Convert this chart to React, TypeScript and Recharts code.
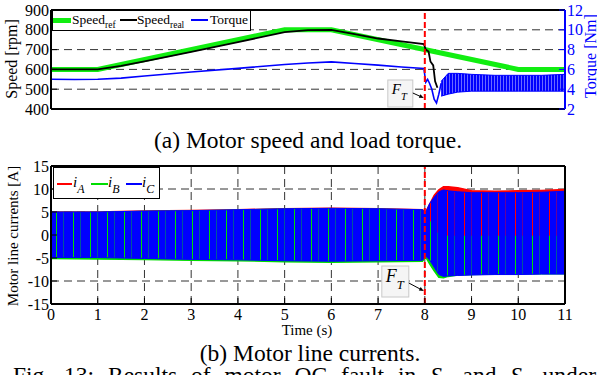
import React from 'react';
import { ComposedChart, Line, Area, XAxis, YAxis, CartesianGrid, ReferenceLine } from 'recharts';

const serif = '"Liberation Serif", "Times New Roman", serif';

// time axis
const secTicks = [0, 1, 2, 3, 4, 5, 6, 7, 8, 9, 10, 11];
const halfTicks = [0.5, 1.5, 2.5, 3.5, 4.5, 5.5, 6.5, 7.5, 8.5, 9.5, 10.5];
const gridSec = [1, 2, 3, 4, 5, 6, 7, 8, 9, 10];
const faultTime = 8;

// (a) speed and torque
const speedTicks = [400, 500, 600, 700, 800, 900];
const speedMinor = [450, 550, 650, 750, 850];
const speedGrid = [500, 600, 700, 800];
const torqueTicks = [2, 4, 6, 8, 10, 12];
const torqueMinor = [3, 5, 7, 9, 11];

const refTime = [0, 1, 5, 6, 10, 11];
const refSpeed = [600, 600, 800, 800, 600, 600];

const realTime = [0, 1, 1.5, 2, 3, 4, 5, 5.5, 6, 6.5, 7, 7.5, 7.98, 8.02, 8.08, 8.12, 8.18, 8.22, 8.27];
const realSpeed = [600, 600, 618, 640, 688, 738, 788, 798, 800, 778, 756, 742, 728, 700, 690, 640, 620, 540, 507];

const torqueTime = [0, 0.5, 1, 1.5, 2, 3, 4, 5, 5.5, 6, 6.5, 7, 7.5, 7.98, 8.02, 8.06, 8.1, 8.15, 8.2, 8.25, 8.3, 8.35];
const torqueValue = [5.0, 4.98, 5.0, 5.12, 5.33, 5.73, 6.1, 6.5, 6.65, 6.76, 6.6, 6.43, 6.25, 6.1, 4.7, 5.0, 4.6, 4.0, 3.0, 2.6, 3.5, 4.6];

const rippleTime = [8.35, 8.5, 8.7, 9, 9.5, 10, 10.5, 11];
const rippleLow = [3.3, 3.5, 3.7, 3.8, 3.8, 3.8, 3.8, 3.8];
const rippleHigh = [4.8, 5.6, 5.6, 5.5, 5.4, 5.4, 5.4, 5.5];

// (b) line currents, envelopes [A]
const currentTicks = [-15, -10, -5, 0, 5, 10, 15];
const currentMinor = [-12.5, -7.5, -2.5, 2.5, 7.5, 12.5];
const currentGrid = [-10, -5, 0, 5, 10];

const curTime = [0, 1, 2, 3, 4, 5, 6, 7, 7.95, 8.02, 8.1, 8.2, 8.3, 8.4, 8.5, 8.7, 9, 9.5, 10, 10.5, 11];
const iAHigh = [5.0, 5.0, 5.2, 5.3, 5.5, 5.7, 5.8, 5.7, 5.5, 5.0, 6.6, 8.6, 9.8, 10.5, 10.5, 10.3, 9.6, 9.5, 9.6, 9.7, 9.9];
const iALow = [-4.9, -4.9, -5.1, -5.3, -5.4, -5.6, -5.7, -5.6, -5.5, -4.6, -4.5, -6.0, -7.5, -8.0, -8.2, -8.3, -8.3, -8.2, -8.2, -8.2, -8.2];
const iBHigh = [4.9, 4.9, 5.1, 5.2, 5.4, 5.6, 5.7, 5.6, 5.4, 4.8, 3.0, 1.0, 0.0, -0.2, -0.3, -0.3, -0.3, -0.3, -0.3, -0.3, -0.3];
const iBLow = [-5.1, -5.2, -5.3, -5.5, -5.6, -5.8, -5.9, -5.8, -5.7, -4.8, -6.2, -7.8, -9.2, -9.3, -9.0, -8.7, -8.6, -8.5, -8.5, -8.4, -8.4];
const iCHigh = [5.0, 5.0, 5.2, 5.3, 5.5, 5.7, 5.8, 5.7, 5.5, 5.0, 6.8, 8.2, 9.4, 9.8, 9.6, 9.4, 9.2, 9.2, 9.2, 9.3, 9.5];
const iCLow = [-4.9, -4.9, -5.1, -5.3, -5.4, -5.6, -5.7, -5.6, -5.5, -4.6, -5.4, -7.0, -8.6, -9.0, -8.9, -8.8, -8.7, -8.6, -8.6, -8.5, -8.5];

const refData = refTime.map((t, i) => ({ t, v: refSpeed[i] }));
const realData = realTime.map((t, i) => ({ t, v: realSpeed[i] }));
const torqueData = torqueTime.map((t, i) => ({ t, v: torqueValue[i] }));
const rippleData = rippleTime.map((t, i) => ({ t, r: [rippleLow[i], rippleHigh[i]] }));
const currentData = curTime.map((t, i) => ({
  t,
  a: [iALow[i], iAHigh[i]],
  b: [iBLow[i], iBHigh[i]],
  c: [iCLow[i], iCHigh[i]],
}));

const tickFont = { fill: '#000', fontSize: 16, fontFamily: serif };
const frame = { stroke: '#000', strokeWidth: 2 };
const thin = { stroke: '#000', strokeWidth: 1 };

// "F_T" box with arrow, placed relative to the fault line
const FtMark = (props: any) => {
  const { viewBox, boxLeft, boxTop, boxW, boxH, fs, ay0, ay1 } = props;
  if (!viewBox) return null;
  const x = viewBox.x;
  const y = viewBox.y;
  const bx = x - boxLeft;
  const by = y + boxTop;
  const x0 = bx + boxW;
  const y0 = y + ay0;
  const x1 = x - 1;
  const y1 = y + ay1;
  const ang = Math.atan2(y1 - y0, x1 - x0);
  const hl = 5;
  const p1 = `${x1},${y1}`;
  const p2 = `${x1 - hl * Math.cos(ang - 0.4)},${y1 - hl * Math.sin(ang - 0.4)}`;
  const p3 = `${x1 - hl * Math.cos(ang + 0.4)},${y1 - hl * Math.sin(ang + 0.4)}`;
  return (
    <g>
      <rect x={bx} y={by} width={boxW} height={boxH} fill="#f5f5f5" stroke="#c8c8c8" strokeWidth={1} />
      <text x={bx + 4} y={by + boxH * 0.5} fontFamily={serif} fontStyle="italic" fontSize={fs} fill="#000">
        F
        <tspan fontSize={fs * 0.7} dy={fs * 0.4}>T</tspan>
      </text>
      <line x1={x0} y1={y0} x2={x1 - 3 * Math.cos(ang)} y2={y1 - 3 * Math.sin(ang)} stroke="#000" strokeWidth={1} />
      <polygon points={`${p1} ${p2} ${p3}`} fill="#000" />
    </g>
  );
};

const Sub = ({ children, size, drop }: any) => (
  <span style={{ fontSize: size, position: 'relative', top: drop }}>{children}</span>
);

const Swatch = ({ left, top, w, h, color }: any) => (
  <div style={{ position: 'absolute', left, top: top - h / 2, width: w, height: h, background: color }} />
);

const Abs = ({ left, top, children, style }: any) => (
  <div style={{ position: 'absolute', left, top, whiteSpace: 'nowrap', lineHeight: 1, ...style }}>{children}</div>
);

const Rotated = ({ cx, cy, size, color, children }: any) => (
  <div
    style={{
      position: 'absolute',
      left: cx,
      top: cy,
      transform: 'translate(-50%, -50%) rotate(-90deg)',
      whiteSpace: 'nowrap',
      fontFamily: serif,
      fontSize: size,
      lineHeight: 1,
      color,
    }}
  >
    {children}
  </div>
);

const SpeedChart = () => (
  <ComposedChart width={597} height={120} margin={{ top: 10, right: 0, bottom: 0, left: 0 }}>
    <defs>
      <pattern id="rippleStripes" patternUnits="userSpaceOnUse" width="3" height="6">
        <rect x="0" y="0" width="2" height="6" fill="#0000ff" />
        <rect x="2" y="0" width="1" height="6" fill="#6a6aff" />
      </pattern>
    </defs>
    <CartesianGrid
      xAxisId="b"
      yAxisId="l"
      stroke="#333"
      strokeDasharray="8 5"
      verticalValues={gridSec}
      horizontalValues={speedGrid}
    />
    <XAxis xAxisId="b" type="number" dataKey="t" domain={[0, 11]} ticks={secTicks} interval={0}
      tick={false} tickSize={-6} height={11} axisLine={frame} tickLine={thin} />
    <XAxis xAxisId="bm" type="number" dataKey="t" domain={[0, 11]} ticks={halfTicks} interval={0}
      tick={false} tickSize={3} mirror height={1} axisLine={false} tickLine={thin} />
    <XAxis xAxisId="t" orientation="top" type="number" dataKey="t" domain={[0, 11]} ticks={gridSec} interval={0}
      tick={false} tickSize={6} mirror height={1} axisLine={frame} tickLine={thin} />
    <YAxis yAxisId="l" type="number" domain={[400, 900]} ticks={speedTicks} interval={0} width={51}
      tickSize={-6} tickMargin={8} tick={tickFont} axisLine={frame} tickLine={thin} />
    <YAxis yAxisId="lm" type="number" domain={[400, 900]} ticks={speedMinor} interval={0} width={1} mirror
      tick={false} tickSize={3} axisLine={false} tickLine={thin} />
    <YAxis yAxisId="r" orientation="right" type="number" domain={[2, 12]} ticks={torqueTicks} interval={0} width={32}
      tickSize={-6} tickMargin={8} tick={{ ...tickFont, fill: '#0000ff' }}
      axisLine={{ stroke: '#0000ff', strokeWidth: 2 }} tickLine={{ stroke: '#0000ff' }} />
    <YAxis yAxisId="rm" orientation="right" type="number" domain={[2, 12]} ticks={torqueMinor} interval={0} width={1} mirror
      tick={false} tickSize={3} axisLine={false} tickLine={{ stroke: '#0000ff' }} />
    <Line xAxisId="b" yAxisId="l" data={refData} dataKey="v" type="linear" stroke="#11ee11" strokeWidth={5}
      dot={false} isAnimationActive={false} />
    <Line xAxisId="b" yAxisId="l" data={realData} dataKey="v" type="linear" stroke="#000" strokeWidth={1.8}
      dot={false} isAnimationActive={false} />
    <Line xAxisId="b" yAxisId="r" data={torqueData} dataKey="v" type="linear" stroke="#0000ff" strokeWidth={1.6}
      dot={false} isAnimationActive={false} />
    <Area xAxisId="b" yAxisId="r" data={rippleData} dataKey="r" type="linear" stroke="#0000ff" strokeWidth={1}
      fill="url(#rippleStripes)" fillOpacity={1} dot={false} isAnimationActive={false} />
    <ReferenceLine xAxisId="b" yAxisId="l" x={faultTime} stroke="#ff0000" strokeWidth={2} strokeDasharray="6 3"
      label={<FtMark boxLeft={37} boxTop={70} boxW={25} boxH={27} fs={15} ay0={83} ay1={88} />} />
  </ComposedChart>
);

const CurrentChart = () => (
  <ComposedChart width={597} height={176} data={currentData} margin={{ top: 16, right: 32, bottom: 0, left: 0 }}>
    <defs>
      <pattern id="phaseCStripes" patternUnits="userSpaceOnUse" width="17" height="6">
        <rect x="0" y="0" width="5" height="6" fill="#0000ff" />
        <rect x="6" y="0" width="6" height="6" fill="#0000ff" />
        <rect x="12" y="0" width="1" height="6" fill="#0000ff" fillOpacity={0.6} />
        <rect x="13" y="0" width="4" height="6" fill="#0000ff" />
      </pattern>
    </defs>
    <CartesianGrid
      xAxisId="b"
      yAxisId="l"
      stroke="#333"
      strokeDasharray="8 5"
      verticalValues={gridSec}
      horizontalValues={currentGrid}
    />
    <XAxis xAxisId="b" type="number" dataKey="t" domain={[0, 11]} ticks={secTicks} interval={0}
      tickSize={-6} tickMargin={11} tick={tickFont} height={22} axisLine={frame} tickLine={thin} />
    <XAxis xAxisId="bm" type="number" dataKey="t" domain={[0, 11]} ticks={halfTicks} interval={0}
      tick={false} tickSize={3} mirror height={1} axisLine={false} tickLine={thin} />
    <XAxis xAxisId="t" orientation="top" type="number" dataKey="t" domain={[0, 11]} ticks={gridSec} interval={0}
      tick={false} tickSize={6} mirror height={1} axisLine={frame} tickLine={thin} />
    <YAxis yAxisId="l" type="number" domain={[-15, 15]} ticks={currentTicks} interval={0} width={51}
      tickSize={-6} tickMargin={8} tick={tickFont} axisLine={frame} tickLine={thin} />
    <YAxis yAxisId="lm" type="number" domain={[-15, 15]} ticks={currentMinor} interval={0} width={1} mirror
      tick={false} tickSize={3} axisLine={false} tickLine={thin} />
    <YAxis yAxisId="r" orientation="right" type="number" domain={[-15, 15]} ticks={currentTicks} interval={0} width={1} mirror
      tick={false} tickSize={6} axisLine={frame} tickLine={thin} />
    <Area xAxisId="b" yAxisId="l" dataKey="a" type="linear" stroke="#ff0000" strokeWidth={1.5}
      fill="#ff0000" fillOpacity={1} isAnimationActive={false} />
    <Area xAxisId="b" yAxisId="l" dataKey="b" type="linear" stroke="#00dd00" strokeWidth={1.5}
      fill="#00dd00" fillOpacity={1} isAnimationActive={false} />
    <Area xAxisId="b" yAxisId="l" dataKey="c" type="linear" stroke="#0000ff" strokeWidth={1}
      fill="url(#phaseCStripes)" fillOpacity={1} isAnimationActive={false} />
    <ReferenceLine xAxisId="b" yAxisId="l" x={faultTime} stroke="#ff0000" strokeWidth={2} strokeDasharray="6 3"
      label={<FtMark boxLeft={43} boxTop={100} boxW={27} boxH={31} fs={18} ay0={117} ay1={125} />} />
  </ComposedChart>
);

export default function App() {
  return (
    <div
      style={{
        position: 'absolute',
        left: 0,
        top: 0,
        width: 597,
        height: 375,
        overflow: 'hidden',
        background: '#fff',
        fontFamily: serif,
        color: '#000',
      }}
    >
      <div style={{ position: 'absolute', left: 0, top: 0 }}>
        <SpeedChart />
      </div>
      <div style={{ position: 'absolute', left: 0, top: 150 }}>
        <CurrentChart />
      </div>

      {/* legend (a) */}
      <div style={{ position: 'absolute', left: 52, top: 10, width: 199, height: 21, boxSizing: 'border-box',
        border: '1.5px solid #000', background: '#fff', fontSize: 13.5 }}>
        <Swatch left={0} top={9} w={18} h={5} color="#11ee11" />
        <Abs left={19} top={2}>Speed<Sub size={9.5} drop={4}>ref</Sub></Abs>
        <Swatch left={67} top={9} w={17} h={2} color="#000" />
        <Abs left={84} top={2}>Speed<Sub size={9.5} drop={4}>real</Sub></Abs>
        <Swatch left={138} top={9} w={17} h={2} color="#0000ff" />
        <Abs left={157} top={2}>Torque</Abs>
      </div>

      {/* legend (b) */}
      <div style={{ position: 'absolute', left: 53, top: 167, width: 107, height: 32, boxSizing: 'border-box',
        border: '1.5px solid #000', background: '#fff' }}>
        <Swatch left={3} top={15.5} w={15} h={2} color="#ff0000" />
        <Abs left={19} top={7} style={{ fontSize: 15, fontStyle: 'italic' }}>i<Sub size={12} drop={6}>A</Sub></Abs>
        <Swatch left={37} top={15.5} w={17} h={2} color="#00dd00" />
        <Abs left={54} top={7} style={{ fontSize: 15, fontStyle: 'italic' }}>i<Sub size={12} drop={6}>B</Sub></Abs>
        <Swatch left={72} top={15.5} w={16} h={2} color="#0000ff" />
        <Abs left={88} top={7} style={{ fontSize: 15, fontStyle: 'italic' }}>i<Sub size={12} drop={6}>C</Sub></Abs>
      </div>

      <Rotated cx={12} cy={59} size={16} color="#000">Speed [rpm]</Rotated>
      <Rotated cx={591} cy={56} size={16} color="#0000ff">Torque [Nm]</Rotated>
      <Rotated cx={13} cy={236} size={15} color="#000">Motor line currents [A]</Rotated>

      <Abs left={307} top={323} style={{ fontSize: 15, transform: 'translateX(-50%)' }}>Time (s)</Abs>

      <Abs left={308} top={129} style={{ fontSize: 23.5, transform: 'translateX(-50%)' }}>
        (a) Motor speed and load torque.
      </Abs>
      <Abs left={310} top={342} style={{ fontSize: 23.5, transform: 'translateX(-50%)' }}>
        (b) Motor line currents.
      </Abs>
      <Abs left={13} top={364} style={{ fontSize: 23.5, wordSpacing: 8 }}>
        Fig. 13: Results of motor OC fault in <i>S</i>
        <Sub size={15} drop={5}>a</Sub> and <i>S</i>
        <Sub size={15} drop={5}>c</Sub> under
      </Abs>
    </div>
  );
}
